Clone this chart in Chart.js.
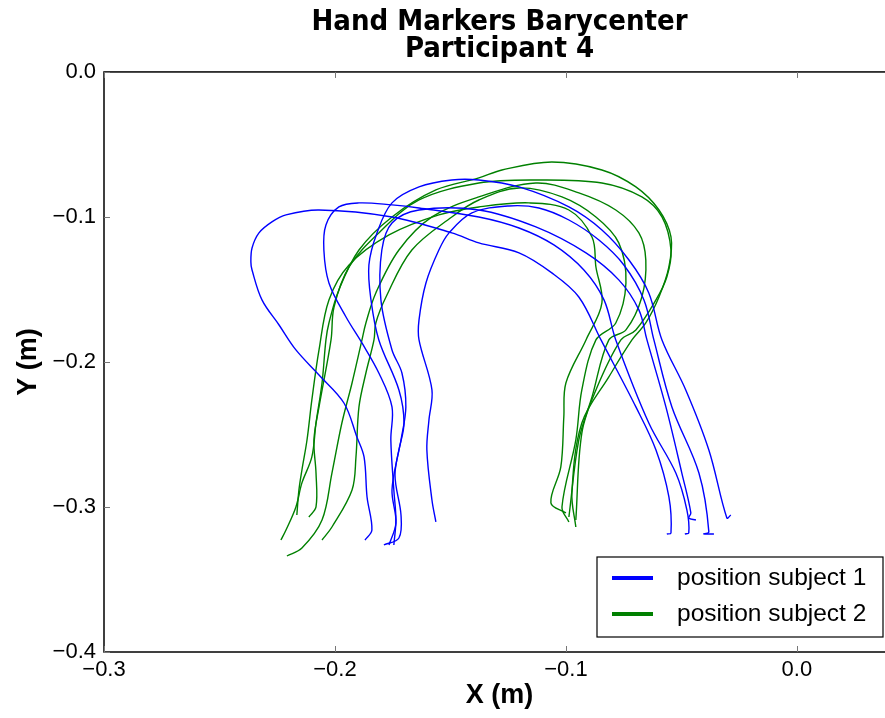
<!DOCTYPE html>
<html>
<head>
<meta charset="utf-8">
<script src="https://cdn.jsdelivr.net/npm/chart.js@4.4.1/dist/chart.umd.min.js"></script>
<style>
  html, body { margin: 0; padding: 0; background: #fff; overflow: hidden; }
  #wrap { width: 895px; height: 718px; }
</style>
</head>
<body>
<div id="wrap"><canvas id="traj" width="895" height="718"></canvas></div>
<script>
// axis limits (m)
const xRange = [-0.3, 0.0425];
const yRange = [-0.4, 0.0];
const xTickValues = [-0.3, -0.2, -0.1, 0.0];
const yTickValues = [-0.4, -0.3, -0.2, -0.1, 0.0];

const title = ["Hand Markers Barycenter", "Participant 4"];
const subjectLabels = ["position subject 1", "position subject 2"];
const subjectColors = ["#0000ff", "#008000"];

// subject 1 (blue) trials
const s1t1X = [-0.1870,-0.1840,-0.1861,-0.1874,-0.1905,-0.1961,-0.2069,-0.2169,-0.2242,-0.2316,-0.2359,-0.2364,-0.2359,-0.2329,-0.2273,-0.2212,-0.2069,-0.1753,-0.1494,-0.1377,-0.1203,-0.1061,-0.0944,-0.0848,-0.0697,-0.0610,-0.0554,-0.0545,-0.0563];
const s1t1Y = [-0.3228,-0.3159,-0.2931,-0.2655,-0.2517,-0.2283,-0.2090,-0.1917,-0.1745,-0.1572,-0.1366,-0.1310,-0.1214,-0.1110,-0.1034,-0.0986,-0.0952,-0.1000,-0.1110,-0.1179,-0.1248,-0.1386,-0.1552,-0.1848,-0.2310,-0.2607,-0.2931,-0.3179,-0.3186];

const s1t2X = [-0.1745,-0.1736,-0.1745,-0.1758,-0.1753,-0.1810,-0.1883,-0.1952,-0.2026,-0.2048,-0.2039,-0.1983,-0.1896,-0.1753,-0.1636,-0.1377,-0.1203,-0.1052,-0.0922,-0.0835,-0.0784,-0.0641,-0.0524,-0.0476,-0.0468,-0.0485];
const s1t2Y = [-0.3262,-0.3090,-0.2883,-0.2538,-0.2310,-0.2076,-0.1869,-0.1690,-0.1455,-0.1228,-0.1055,-0.0931,-0.0903,-0.0917,-0.0938,-0.1000,-0.1076,-0.1193,-0.1366,-0.1572,-0.1848,-0.2421,-0.2766,-0.3021,-0.3179,-0.3186];

const s1t3X = [-0.1788,-0.1723,-0.1714,-0.1740,-0.1714,-0.1693,-0.1710,-0.1753,-0.1801,-0.1797,-0.1753,-0.1636,-0.1377,-0.1130,-0.0913,-0.0771,-0.0684,-0.0649,-0.0567,-0.0498,-0.0459,-0.0468,-0.0437];
const s1t3Y = [-0.3262,-0.3214,-0.3055,-0.2779,-0.2538,-0.2310,-0.2076,-0.1917,-0.1572,-0.1228,-0.1041,-0.0952,-0.0952,-0.1069,-0.1248,-0.1434,-0.1641,-0.1848,-0.2310,-0.2766,-0.3041,-0.3076,-0.3090];

const s1t4X = [-0.1563,-0.1580,-0.1602,-0.1593,-0.1580,-0.1636,-0.1636,-0.1606,-0.1550,-0.1506,-0.1407,-0.1247,-0.1117,-0.0987,-0.0857,-0.0749,-0.0662,-0.0619,-0.0541,-0.0424,-0.0381,-0.0403,-0.0359];
const s1t4Y = [-0.3103,-0.2952,-0.2607,-0.2400,-0.2193,-0.1848,-0.1710,-0.1455,-0.1228,-0.1110,-0.0972,-0.0924,-0.0938,-0.1021,-0.1159,-0.1331,-0.1572,-0.1848,-0.2310,-0.2766,-0.3172,-0.3186,-0.3186];

const s1t5X = [-0.1766,-0.1736,-0.1753,-0.1723,-0.1701,-0.1723,-0.1810,-0.1844,-0.1853,-0.1818,-0.1753,-0.1636,-0.1494,-0.1377,-0.1203,-0.0987,-0.0844,-0.0727,-0.0641,-0.0584,-0.0481,-0.0381,-0.0303,-0.0286];
const s1t5Y = [-0.3262,-0.3110,-0.2883,-0.2607,-0.2421,-0.2193,-0.1848,-0.1572,-0.1331,-0.1110,-0.0903,-0.0793,-0.0745,-0.0745,-0.0793,-0.0931,-0.1090,-0.1297,-0.1524,-0.1848,-0.2193,-0.2607,-0.3076,-0.3055];

// subject 2 (green) trials
const s2t1X = [-0.2234,-0.2212,-0.2169,-0.2143,-0.2100,-0.2082,-0.2056,-0.2039,-0.2026,-0.1983,-0.1896,-0.1753,-0.1563,-0.1377,-0.1277,-0.1061,-0.0844,-0.0697,-0.0597,-0.0545,-0.0554,-0.0597,-0.0654,-0.0714,-0.0814,-0.0931,-0.0974,-0.0957];
const s2t1Y = [-0.3228,-0.3159,-0.3000,-0.2834,-0.2655,-0.2421,-0.2145,-0.1848,-0.1731,-0.1503,-0.1228,-0.1000,-0.0814,-0.0731,-0.0676,-0.0621,-0.0676,-0.0793,-0.0952,-0.1138,-0.1345,-0.1552,-0.1731,-0.1848,-0.2103,-0.2421,-0.2903,-0.3138];

const s2t2X = [-0.2113,-0.2082,-0.2082,-0.2091,-0.2069,-0.2017,-0.2004,-0.1939,-0.1810,-0.1636,-0.1377,-0.1130,-0.0844,-0.0671,-0.0584,-0.0545,-0.0563,-0.0610,-0.0697,-0.0762,-0.0870,-0.0931,-0.0957];
const s2t2Y = [-0.3069,-0.3000,-0.2766,-0.2538,-0.2310,-0.1848,-0.1621,-0.1345,-0.1110,-0.0883,-0.0766,-0.0745,-0.0766,-0.0862,-0.1000,-0.1228,-0.1414,-0.1572,-0.1779,-0.1848,-0.2193,-0.2490,-0.3090];

const s2t3X = [-0.2208,-0.2143,-0.2056,-0.2013,-0.1970,-0.1926,-0.1883,-0.1866,-0.1823,-0.1723,-0.1580,-0.1377,-0.1130,-0.0944,-0.0784,-0.0684,-0.0654,-0.0671,-0.0740,-0.0814,-0.0887,-0.0944,-0.0987];
const s2t3Y = [-0.3338,-0.3283,-0.3090,-0.2766,-0.2421,-0.2145,-0.1848,-0.1731,-0.1524,-0.1228,-0.1000,-0.0862,-0.0766,-0.0834,-0.0952,-0.1110,-0.1297,-0.1552,-0.1779,-0.1848,-0.2241,-0.2538,-0.3069];

const s2t4X = [-0.2056,-0.2013,-0.1926,-0.1909,-0.1896,-0.1866,-0.1831,-0.1823,-0.1779,-0.1667,-0.1494,-0.1377,-0.1203,-0.1017,-0.0870,-0.0771,-0.0740,-0.0784,-0.0870,-0.0931,-0.0957,-0.1017,-0.0987];
const s2t4Y = [-0.3228,-0.3138,-0.2883,-0.2655,-0.2310,-0.2076,-0.1848,-0.1731,-0.1552,-0.1228,-0.1000,-0.0883,-0.0800,-0.0862,-0.1000,-0.1179,-0.1455,-0.1731,-0.1848,-0.2193,-0.2538,-0.3000,-0.3103];

const s2t5X = [-0.2165,-0.2156,-0.2143,-0.2121,-0.2100,-0.2069,-0.2026,-0.1939,-0.1766,-0.1550,-0.1377,-0.1160,-0.0987,-0.0887,-0.0870,-0.0844,-0.0913,-0.1000,-0.1009,-0.1022,-0.1065,-0.1000];
const s2t5Y = [-0.3055,-0.2883,-0.2745,-0.2538,-0.2262,-0.1917,-0.1572,-0.1331,-0.1124,-0.0986,-0.0931,-0.0903,-0.0952,-0.1138,-0.1345,-0.1593,-0.1848,-0.2145,-0.2379,-0.2724,-0.2972,-0.3041];

const subject1 = [[s1t1X, s1t1Y], [s1t2X, s1t2Y], [s1t3X, s1t3Y], [s1t4X, s1t4Y], [s1t5X, s1t5Y]];
const subject2 = [[s2t1X, s2t1Y], [s2t2X, s2t2Y], [s2t3X, s2t3Y], [s2t4X, s2t4Y], [s2t5X, s2t5Y]];

function toPoints(xs, ys) {
  return xs.map((x, i) => ({ x: x, y: ys[i] }));
}

function trialDatasets(trials, label, color) {
  return trials.map(([xs, ys]) => ({
    label: label,
    data: toPoints(xs, ys),
    showLine: true,
    borderColor: color,
    backgroundColor: color,
    borderWidth: 1.4,
    pointRadius: 0,
    tension: 0.35,
  }));
}

const datasets = [
  ...trialDatasets(subject1, subjectLabels[0], subjectColors[0]),
  ...trialDatasets(subject2, subjectLabels[1], subjectColors[1]),
];

function fmtTick(v) {
  if (Math.abs(v) < 1e-9) return "0.0";
  return (v < 0 ? "\u2212" : "") + Math.abs(v).toFixed(1);
}

// frame, inward ticks and the legend box (matplotlib style)
const framePlugin = {
  id: "frame",
  afterDraw(chart) {
    const { ctx, chartArea: a, scales } = chart;
    ctx.save();
    ctx.strokeStyle = "#000";
    ctx.lineWidth = 1.5;
    ctx.strokeRect(a.left, a.top, a.right - a.left, a.bottom - a.top);

    ctx.strokeStyle = "#777";
    ctx.lineWidth = 1;
    scales.x.ticks.forEach((t) => {
      const px = Math.round(scales.x.getPixelForValue(t.value)) + 0.5;
      ctx.beginPath();
      ctx.moveTo(px, a.bottom);
      ctx.lineTo(px, a.bottom - 6);
      ctx.moveTo(px, a.top);
      ctx.lineTo(px, a.top + 6);
      ctx.stroke();
    });
    scales.y.ticks.forEach((t) => {
      const py = Math.round(scales.y.getPixelForValue(t.value)) + 0.5;
      ctx.beginPath();
      ctx.moveTo(a.left, py);
      ctx.lineTo(a.left + 6, py);
      ctx.stroke();
    });

    // legend
    const bx = a.right - 298, by = a.bottom - 95, bw = 286, bh = 80;
    ctx.fillStyle = "#fff";
    ctx.fillRect(bx, by, bw, bh);
    ctx.strokeStyle = "#000";
    ctx.lineWidth = 1.2;
    ctx.strokeRect(bx, by, bw, bh);
    ctx.font = "24.5px 'Liberation Sans', Arial, sans-serif";
    ctx.textBaseline = "middle";
    subjectLabels.forEach((lab, i) => {
      const ly = by + 21 + i * 36;
      ctx.strokeStyle = subjectColors[i];
      ctx.lineWidth = 4;
      ctx.beginPath();
      ctx.moveTo(bx + 15, ly);
      ctx.lineTo(bx + 56, ly);
      ctx.stroke();
      ctx.fillStyle = "#000";
      ctx.fillText(lab, bx + 80, ly);
    });
    ctx.restore();
  },
};

const tickFont = { family: "'Liberation Sans', Arial, sans-serif", size: 22 };
const labelFont = { family: "'Liberation Sans', Arial, sans-serif", size: 27, weight: "bold" };

new Chart(document.getElementById("traj"), {
  type: "scatter",
  data: { datasets: datasets },
  options: {
    responsive: false,
    animation: false,
    layout: { padding: 0 },
    scales: {
      x: {
        type: "linear",
        min: xRange[0],
        max: xRange[1],
        grid: { display: false, drawTicks: false },
        border: { display: false },
        afterBuildTicks(scale) {
          scale.ticks = xTickValues.map((v) => ({ value: v }));
        },
        ticks: {
          font: tickFont,
          color: "#000",
          padding: 5,
          maxRotation: 0,
          autoSkip: false,
          callback: (v) => fmtTick(v),
        },
        title: { display: true, text: "X (m)", font: labelFont, color: "#000", padding: { top: 2, bottom: 6 } },
        afterFit(scale) {
          scale.height = 66;
        },
      },
      y: {
        type: "linear",
        min: yRange[0],
        max: yRange[1],
        grid: { display: false, drawTicks: false },
        border: { display: false },
        afterBuildTicks(scale) {
          scale.ticks = yTickValues.map((v) => ({ value: v }));
        },
        ticks: {
          font: tickFont,
          color: "#000",
          padding: 8,
          autoSkip: false,
          callback: (v) => fmtTick(v),
        },
        title: { display: true, text: "Y (m)", font: labelFont, color: "#000", padding: { top: 12, bottom: 0 } },
        afterFit(scale) {
          scale.width = 104;
        },
      },
    },
    plugins: {
      legend: { display: false },
      tooltip: { enabled: false },
      title: {
        display: true,
        fullSize: false,
        text: title,
        color: "#000",
        font: { family: "'DejaVu Sans Condensed', 'DejaVu Sans', sans-serif", weight: "bold", size: 29, lineHeight: 0.93 },
        padding: { top: 9, bottom: 9 },
      },
    },
  },
  plugins: [framePlugin],
});
</script>
</body>
</html>
